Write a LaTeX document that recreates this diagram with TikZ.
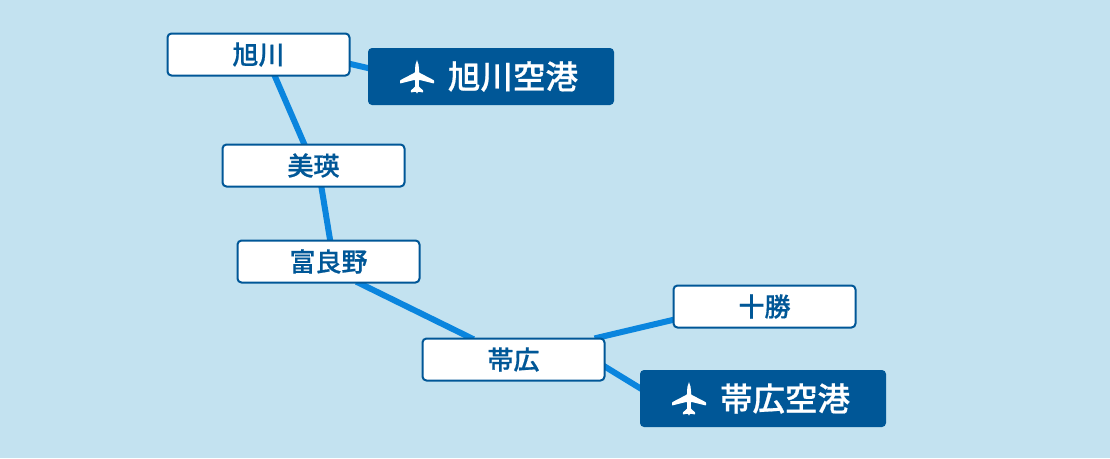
\documentclass[tikz,border=0pt]{standalone}
\usepackage{fontspec}
\setmainfont{Noto Sans CJK JP}[BoldFont={* Medium},BoldFeatures={FakeBold=0.6}]
\usetikzlibrary{backgrounds}
\definecolor{bgc}{HTML}{C3E2F0}
\definecolor{navy}{HTML}{005797}
\definecolor{linec}{HTML}{0A85DE}
\pgfdeclarelayer{lines}
\pgfsetlayers{background,lines,main}
\newcommand{\planeicon}[2]{%
\fill[white,shift={(#1,#2)},rounded corners=0.6pt]
 (0,-16.5) .. controls (1.4,-14) and (2,-11) .. (2,-7)
 -- (2,-4.5) -- (17,3.3) -- (17,6.5) -- (2,2.8)
 -- (1.8,9.6) -- (6.2,13.5) -- (6.2,15.5) -- (1,14.6) -- (0,17) -- (-1,14.6) -- (-6.2,15.5) -- (-6.2,13.5) -- (-1.8,9.6)
 -- (-2,2.8) -- (-17,6.5) -- (-17,3.3) -- (-2,-4.5) -- (-2,-7)
 .. controls (-2,-11) and (-1.4,-14) .. (0,-16.5) -- cycle;}
\tikzset{
 x=1pt,y=-1pt,
 stationbox/.style={draw=navy,line width=2pt,fill=white,rounded corners=4pt,minimum width=182pt,minimum height=42pt,inner sep=0pt,text=navy,font=\fontsize{26}{26}\selectfont\bfseries},
 airportbox/.style={fill=navy,rounded corners=4pt,minimum width=246pt,minimum height=57pt,inner sep=0pt,text=white,font=\fontsize{32.5}{32.5}\selectfont\bfseries},
 linkline/.style={draw=linec,line width=6pt,shorten >=-4pt,shorten <=-4pt}
}
\begin{document}
\begin{tikzpicture}
\useasboundingbox (0,0) rectangle (1110,458);
\begin{pgfonlayer}{background}
\fill[bgc] (0,0) rectangle (1110,458);
\end{pgfonlayer}
\node[stationbox] (asahikawa) at (258.5,54.5) {\raisebox{-1pt}{旭川}};
\node[stationbox] (biei) at (313.5,165.5) {\raisebox{-1pt}{美瑛}};
\node[stationbox] (furano) at (328.5,261.5) {\raisebox{-1pt}{富良野}};
\node[stationbox] (obihiro) at (513.5,359.5) {\raisebox{-1pt}{帯広}};
\node[stationbox] (tokachi) at (764.5,306.5) {\raisebox{-1pt}{十勝}};
\node[airportbox] (akj) at (491,76.5) {\hspace*{44pt}\raisebox{-2.5pt}{旭川空港}};
\node[airportbox] (obo) at (763,398.5) {\hspace*{44pt}\raisebox{-2.5pt}{帯広空港}};
\planeicon{417}{77}
\planeicon{689}{399}
\begin{pgfonlayer}{lines}
\draw[linkline] ([xshift=16.5pt]asahikawa.south) -- ([xshift=-9.5pt]biei.north);
\draw[linkline] ([xshift=8pt]biei.south) -- ([xshift=1.5pt]furano.north);
\draw[linkline] ([xshift=31.5pt]furano.south) -- ([xshift=-43.5pt]obihiro.north);
\draw[linkline] ([xshift=85pt]obihiro.north) -- (tokachi.west |- 0,320);
\draw[linkline] (asahikawa.east |- 0,64) -- (akj.west |- 0,68);
\draw[linkline] (obihiro.east |- 0,367) -- (obo.west |- 0,388);
\end{pgfonlayer}
\end{tikzpicture}
\end{document}
